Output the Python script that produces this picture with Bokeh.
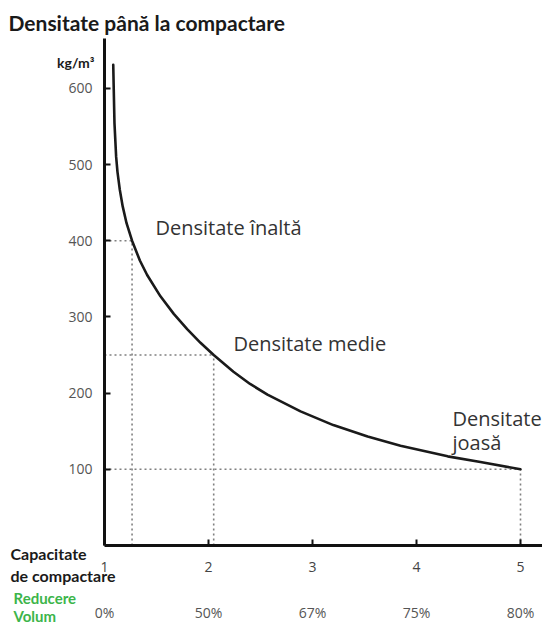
from bokeh.plotting import figure
from bokeh.models import Range1d, LinearAxis, FixedTicker
from bokeh.core.properties import value
from bokeh.embed import file_html
from bokeh.resources import INLINE

# ---- data ----
compaction = [1.084, 1.089, 1.096, 1.112, 1.125, 1.147, 1.175, 1.212, 1.265, 1.34,
              1.41, 1.538, 1.666, 1.795, 1.923, 2.05, 2.24, 2.4, 2.567, 2.885,
              3.2, 3.53, 3.846, 4.3, 4.615, 5.0]
density = [631, 598, 554, 510, 490, 467, 445, 423, 400, 374,
           355, 327, 304, 284, 266, 250, 228, 212, 198, 176,
           158, 143, 131, 117, 109.5, 100]

ref_x = [1.265, 2.05, 5.0]
ref_y = [400, 250, 100]

x_ticks = [1, 2, 3, 4, 5]
volume_reduction = ["0%", "50%", "67%", "75%", "80%"]
y_ticks = [100, 200, 300, 400, 500, 600]

ann_text = ["Densitate înaltă", "Densitate medie", "Densitate", "joasă"]
title_text = "Densitate până la compactare"
unit_text = "kg/m³"
cap_text = ["Capacitate", "de compactare"]
vol_text = ["Reducere", "Volum"]

# ---- layout constants (pixels of the picture) ----
W, H = 542, 627
X1_PX, PX_PER_X = 104, 104.0      # where x=1 sits, px per unit
Y0_PX, PX_PER_Y = 545, 0.762      # where y=0 sits, px per unit
AXIS_TOP_PX = 38


def dx(px):
    return 1 + (px - X1_PX) / PX_PER_X


def dy(py):
    return (Y0_PX - py) / PX_PER_Y


FONT = "Open Sans"
BFONT = "Lato"

p = figure(width=W, height=H, output_backend="svg", toolbar_location=None,
           x_range=Range1d(dx(0), dx(W)), y_range=Range1d(dy(H), dy(0)),
           min_border=0, x_axis_type=None, y_axis_type=None)
p.grid.visible = False
p.outline_line_color = None
p.background_fill_color = "white"
p.border_fill_color = "white"

# dotted guide lines
p.segment(x0=[1.0] * len(ref_x), y0=ref_y, x1=ref_x, y1=ref_y,
          line_color="#808080", line_width=1.6, line_dash="2 3")
p.segment(x0=ref_x, y0=[0] * len(ref_x), x1=ref_x, y1=ref_y,
          line_color="#808080", line_width=1.6, line_dash="2 3")

# curve
p.line(compaction, density, line_color="#1a1a1a", line_width=2.6,
       line_join="round", line_cap="round")

# axes (fixed at x=1 / y=0)
yax = LinearAxis(ticker=FixedTicker(ticks=y_ticks), fixed_location=1,
                 bounds=(0, dy(AXIS_TOP_PX)))
yax.axis_line_width = 3
yax.axis_line_color = "#111111"
yax.major_tick_in = 6
yax.major_tick_out = 0
yax.major_tick_line_width = 2
yax.major_tick_line_color = "#111111"
yax.minor_tick_line_color = None
yax.major_label_standoff = 12
yax.major_label_text_font = FONT
yax.major_label_text_font_size = "14px"
yax.major_label_text_color = "#555555"
p.add_layout(yax, "left")

xax = LinearAxis(ticker=FixedTicker(ticks=x_ticks), fixed_location=0,
                 bounds=(1, dx(W)))
xax.axis_line_width = 3
xax.axis_line_color = "#111111"
xax.major_tick_in = 6
xax.major_tick_out = 0
xax.major_tick_line_width = 2
xax.major_tick_line_color = "#111111"
xax.minor_tick_line_color = None
xax.major_label_standoff = 16
xax.major_label_text_font = FONT
xax.major_label_text_font_size = "14px"
xax.major_label_text_color = "#444444"
p.add_layout(xax, "below")

pax = LinearAxis(ticker=FixedTicker(ticks=x_ticks), fixed_location=0,
                 major_label_overrides={t: s for t, s in zip(x_ticks, volume_reduction)})
pax.axis_line_color = None
pax.major_tick_line_color = None
pax.minor_tick_line_color = None
pax.major_label_standoff = 51
pax.major_label_text_font = FONT
pax.major_label_text_font_size = "14px"
pax.major_label_text_color = "#555555"
p.add_layout(pax, "below")

# in-plot annotations
p.text(x=[dx(155), dx(233), dx(452), dx(452)],
       y=[dy(227), dy(343), dy(418), dy(442)],
       text=ann_text, text_font=value(FONT), text_font_size="20px",
       text_color="#333333", text_baseline="middle", text_align="left")

# title and unit
p.text(x=[dx(8)], y=[dy(22)], text=[title_text], text_font=value(BFONT),
       text_font_style="bold", text_font_size="21px", text_color="#1a1a1a",
       text_baseline="middle", text_align="left")
p.text(x=[dx(94)], y=[dy(62)], text=[unit_text], text_font=value(BFONT),
       text_font_style="bold", text_font_size="14px", text_color="#1a1a1a",
       text_baseline="middle", text_align="right")

# bottom-left row captions
p.text(x=[dx(10)] * 2, y=[dy(553), dy(575)], text=cap_text, text_font=value(BFONT),
       text_font_style="bold", text_font_size="16px", text_color="#1a1a1a",
       text_baseline="middle", text_align="left")
p.text(x=[dx(13)] * 2, y=[dy(597), dy(615)], text=vol_text, text_font=value(BFONT),
       text_font_style="bold", text_font_size="15px", text_color="#3cb54a",
       text_baseline="middle", text_align="left")

open("out.html", "w").write(file_html(p, INLINE))
